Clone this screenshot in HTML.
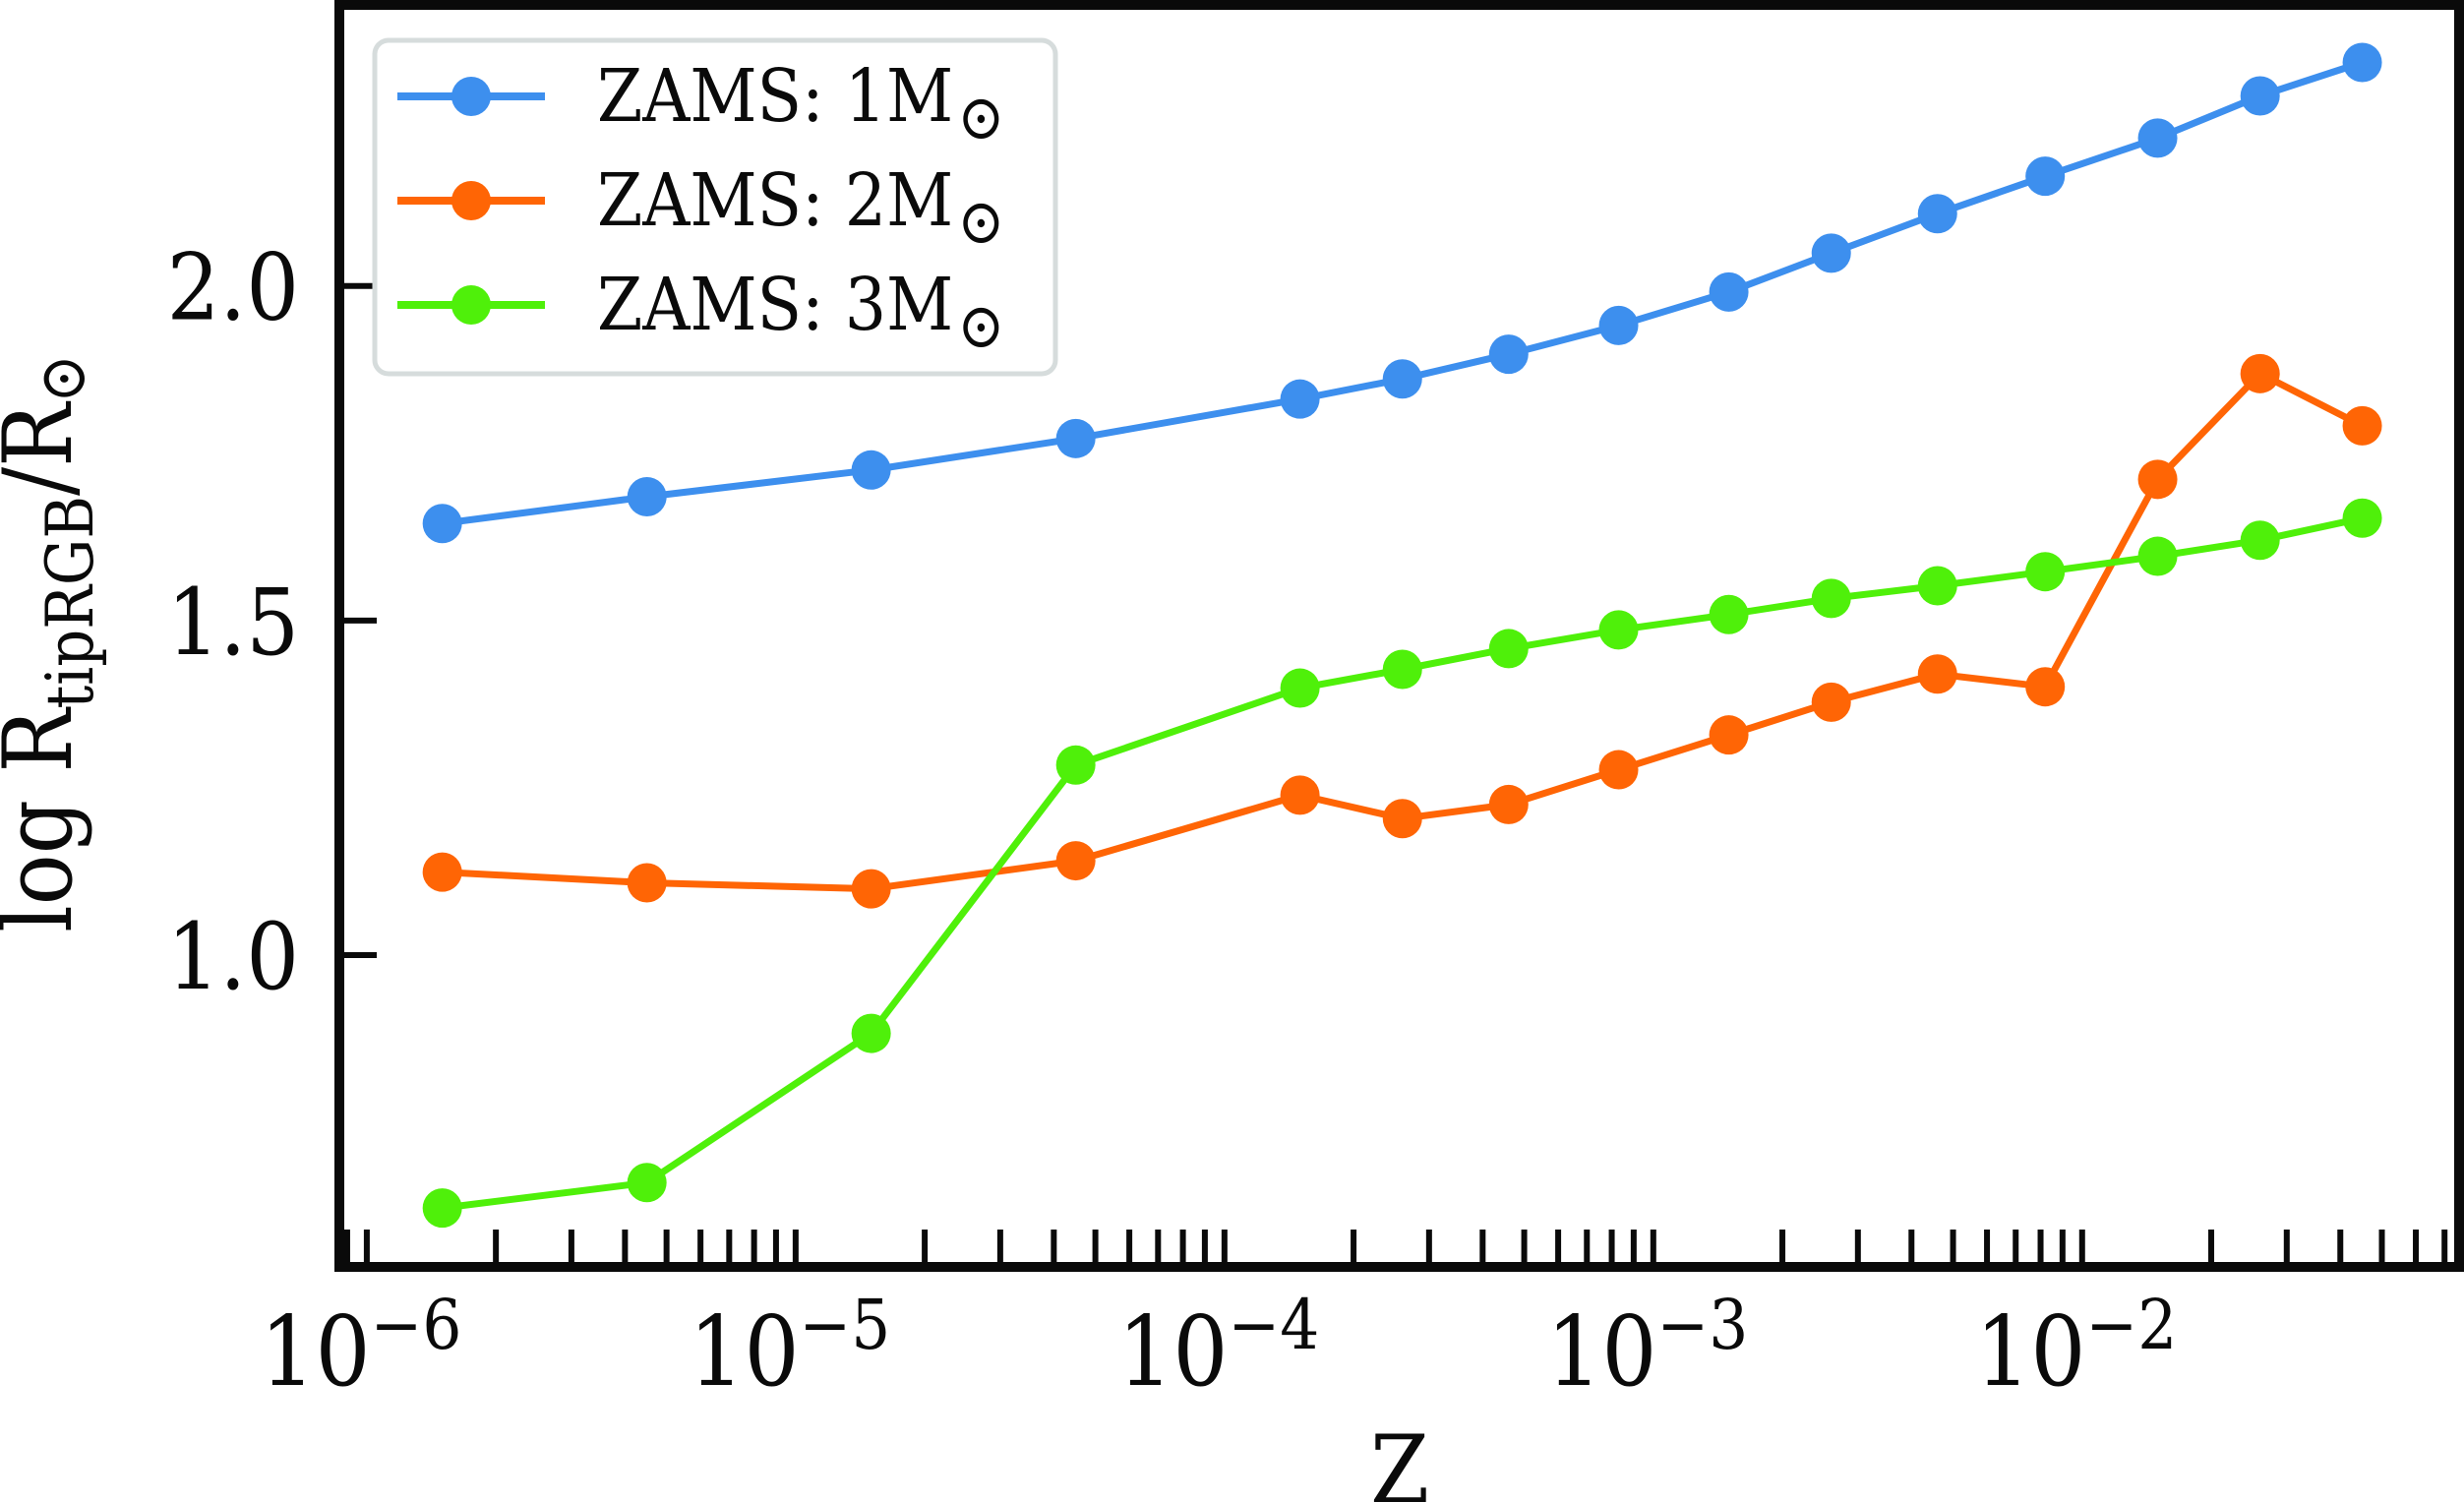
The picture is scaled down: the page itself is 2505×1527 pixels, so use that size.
<!DOCTYPE html>
<html><head><meta charset="utf-8">
<style>
html,body{margin:0;padding:0;background:#fff;}
svg{display:block;}
text{font-family:"DejaVu Serif Condensed","DejaVu Serif","Liberation Serif",serif;fill:#0a0a0a;}
</style></head>
<body>
<svg id="chart" width="2505" height="1527" viewBox="0 0 2505 1527" xmlns="http://www.w3.org/2000/svg">
<g id="marks"></g>
<g id="axes"></g>
</svg>
<script>
const zValues = [1.5e-6, 4.5e-6, 1.5e-5, 4.5e-5, 1.5e-4, 2.6e-4, 4.6e-4, 8.3e-4, 1.5e-3, 2.6e-3, 4.6e-3, 8.2e-3, 1.5e-2, 2.6e-2, 4.5e-2];
const seriesNames = ["ZAMS: 1M", "ZAMS: 2M", "ZAMS: 3M"];
const series1M = [1.645, 1.685, 1.725, 1.772, 1.831, 1.861, 1.898, 1.941, 1.991, 2.049, 2.108, 2.164, 2.221, 2.284, 2.334];
const series2M = [1.124, 1.108, 1.099, 1.141, 1.239, 1.204, 1.225, 1.277, 1.329, 1.378, 1.420, 1.401, 1.711, 1.869, 1.791];
const series3M = [0.622, 0.660, 0.883, 1.284, 1.399, 1.427, 1.458, 1.486, 1.509, 1.533, 1.552, 1.573, 1.596, 1.620, 1.653];
const yTicks = [1.0, 1.5, 2.0];
const yTickLabels = ["1.0", "1.5", "2.0"];
const xMajorExps = [-6, -5, -4, -3, -2];

const NS = "http://www.w3.org/2000/svg";
const L = 345, R = 2500, T = 5, B = 1288;
const xMin = -6.064, xMax = -1.121, yMin = 0.534, yMax = 2.42;
function xs(z){ return L + (Math.log10(z) - xMin) / (xMax - xMin) * (R - L); }
function ys(v){ return B - (v - yMin) / (yMax - yMin) * (B - T); }
function mk(tag, attrs, parent){ const e = document.createElementNS(NS, tag); for (const k in attrs) e.setAttribute(k, attrs[k]); parent.appendChild(e); return e; }

const marks = document.getElementById('marks');
const axes = document.getElementById('axes');
const colors = ["#3d8fee", "#ff6505", "#4ff00a"];
const allSeries = [series1M, series2M, series3M];
const keys = ["1m", "2m", "3m"];

allSeries.forEach((vals, si) => {
  const g = mk('g', {}, marks);
  
  
  const pts = vals.map((v, i) => xs(zValues[i]).toFixed(1) + ',' + ys(v).toFixed(1)).join(' ');
  const pl = mk('polyline', {points: pts, fill: 'none', stroke: colors[si], 'stroke-width': 7, 'stroke-linejoin': 'round'}, g);
  
  
  vals.forEach((v, i) => {
    const c = mk('circle', {cx: xs(zValues[i]), cy: ys(v), r: 20, fill: colors[si]}, g);
    
    
  });
});

// x ticks
for (let e = -7; e <= -1; e++) {
  for (let m = 1; m <= 9; m++) {
    const lz = e + Math.log10(m);
    if (lz < xMin || lz > xMax) continue;
    const x = xs(Math.pow(10, lz));
    const t = mk('line', {x1: x, x2: x, y1: B, y2: B - 38, stroke: '#0a0a0a', 'stroke-width': 6}, axes);
    
    
  }
}
xMajorExps.forEach(e => {
  const x = xs(Math.pow(10, e));
  const tx = mk('text', {x: x - 6, y: 1408, 'text-anchor': 'middle', 'font-size': 98}, axes);
  
  
  const a = mk('tspan', {}, tx); a.textContent = '10';
  const b = mk('tspan', {dy: -37, 'font-size': 70}, tx); b.textContent = '\u2212' + (-e);
});
// y ticks
yTicks.forEach((v, i) => {
  const y = ys(v);
  const t = mk('line', {x1: L, x2: L + 38, y1: y, y2: y, stroke: '#0a0a0a', 'stroke-width': 6}, axes);
  
  
  const tx = mk('text', {x: 304, y: y + 34, 'text-anchor': 'end', 'font-size': 94}, axes);
  
  
  tx.textContent = yTickLabels[i];
});
// frame
const fr = mk('rect', {x: L, y: T, width: R - L, height: B - T, fill: 'none', stroke: '#0a0a0a', 'stroke-width': 10}, axes);



// axis titles
const xt = mk('text', {x: 1423, y: 1528, 'text-anchor': 'middle', 'font-size': 96}, axes);


xt.textContent = 'Z';
const yt = mk('text', {x: 0, y: 0, 'text-anchor': 'middle', 'font-size': 96, transform: 'translate(72,654) rotate(-90)'}, axes);


(function(){
  const a = mk('tspan', {}, yt); a.textContent = 'log R';
  const b = mk('tspan', {dy: 22, 'font-size': 66}, yt); b.textContent = 'tipRGB';
  const c = mk('tspan', {dy: -22}, yt); c.textContent = '/R';
  const d = mk('tspan', {dy: 14, 'font-size': 66}, yt); d.textContent = '\u2299';
})();

// legend
const lg = mk('g', {}, axes);


mk('rect', {x: 381, y: 41, width: 692, height: 339, rx: 14, fill: '#fff', 'fill-opacity': 0.85, stroke: '#d6dcdc', 'stroke-width': 5}, lg);
seriesNames.forEach((n, i) => {
  const y = 98 + i * 106;
  const g = mk('g', {}, lg);
  
  
  mk('line', {x1: 404, x2: 554, y1: y, y2: y, stroke: colors[i], 'stroke-width': 8}, g);
  mk('circle', {cx: 479, cy: y, r: 20, fill: colors[i]}, g);
  const t = mk('text', {x: 607, y: y + 25, 'font-size': 74}, g);
  const a = mk('tspan', {}, t); a.textContent = n;
  const b = mk('tspan', {dx: 4, dy: 18, 'font-size': 64}, t); b.textContent = '\u2299';
});
</script>
</body></html>
